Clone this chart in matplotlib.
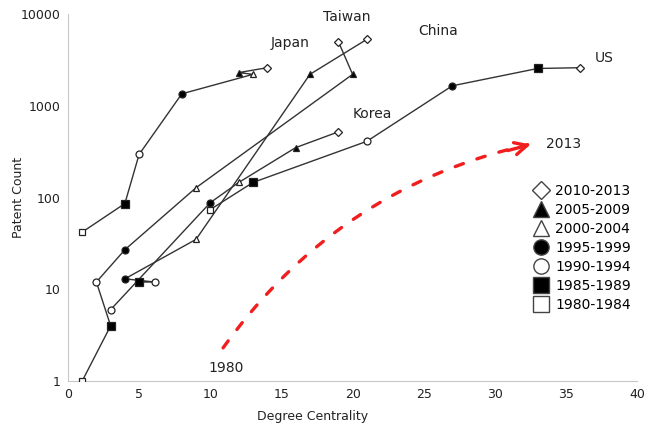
import matplotlib
matplotlib.use('Agg')
import matplotlib.pyplot as plt
from matplotlib.lines import Line2D

# periods and how each one is marked
periods = ['1980-1984', '1985-1989', '1990-1994', '1995-1999', '2000-2004', '2005-2009', '2010-2013']
period_marker = ['s', 's', 'o', 'o', '^', '^', 'D']
period_filled = [False, True, False, True, False, True, False]

# values: degree centrality, patent count, period index
japan_x = [1, 4, 5, 8, 13, 12, 14]
japan_y = [42, 86, 295, 1350, 2200, 2300, 2600]
japan_p = [0, 1, 2, 3, 4, 5, 6]

taiwan_x = [1, 3, 2, 4, 9, 20, 19]
taiwan_y = [1, 4, 12, 27, 128, 2200, 5000]
taiwan_p = [0, 1, 2, 3, 4, 5, 6]

china_x = [5, 6.1, 4, 9, 17, 21]
china_y = [12, 12, 13, 35, 2200, 5300]
china_p = [1, 2, 3, 4, 5, 6]

korea_x = [3, 10, 12, 16, 19]
korea_y = [6, 88, 146, 350, 520]
korea_p = [2, 3, 4, 5, 6]

us_x = [10, 13, 21, 27, 33, 36]
us_y = [74, 146, 410, 1650, 2550, 2600]
us_p = [0, 1, 2, 3, 1, 6]

countries = [('Japan', japan_x, japan_y, japan_p),
             ('Taiwan', taiwan_x, taiwan_y, taiwan_p),
             ('China', china_x, china_y, china_p),
             ('Korea', korea_x, korea_y, korea_p),
             ('US', us_x, us_y, us_p)]

# label positions (data coords)
label_pos = {'Taiwan': (19.6, 9300), 'Japan': (15.6, 4800), 'China': (26.0, 6500),
             'US': (37.7, 3300), 'Korea': (21.4, 820)}

fig = plt.figure(figsize=(6.47, 4.38), dpi=100)
ax = fig.add_axes([0.105, 0.130, 0.880, 0.838])

line_col = '#333333'
for name, xs, ys, ps in countries:
    ax.plot(xs, ys, color=line_col, lw=1.0, zorder=2)
    for x, y, p in zip(xs, ys, ps):
        m = period_marker[p]
        ms = 4.2 if m == 'D' else (5.5 if m == 's' and period_filled[p] else 5)
        ax.plot([x], [y], marker=m, ms=ms, mec='#222222', mew=0.9,
                mfc='black' if period_filled[p] else 'white', zorder=3, ls='none')
    lx, ly = label_pos[name]
    ax.text(lx, ly, name, fontsize=10, ha='center', va='center', color='#222222')

# red dashed arrow 1980 -> 2013 (dashed body, solid head)
red = '#f01e1e'
ax.annotate('', xy=(32.3, 377), xytext=(10.9, 2.3),
            arrowprops=dict(arrowstyle='-', color=red, lw=2.4, linestyle=(0, (2.6, 4.3)),
                            connectionstyle='arc3,rad=-0.19', shrinkA=0, shrinkB=0))
ax.annotate('', xy=(32.5, 379), xytext=(30.9, 325),
            arrowprops=dict(arrowstyle='->', color=red, lw=2.4, mutation_scale=22,
                            shrinkA=0, shrinkB=0))
ax.text(11.1, 1.38, '1980', fontsize=10, ha='center', va='center', color='#222222')
ax.text(34.8, 386, '2013', fontsize=10, ha='center', va='center', color='#222222')

ax.set_yscale('log')
ax.set_xlim(0, 40)
ax.set_ylim(1, 10000)
ax.set_xticks(range(0, 41, 5))
ax.set_yticks([1, 10, 100, 1000, 10000])
ax.set_yticklabels(['1', '10', '100', '1000', '10000'])
ax.minorticks_off()
ax.tick_params(length=0, labelsize=9, colors='#222222', pad=5)
for s in ['top', 'right']:
    ax.spines[s].set_visible(False)
for s in ['left', 'bottom']:
    ax.spines[s].set_color('#c8c8c8')
ax.set_xlabel('Degree Centrality', fontsize=9, color='#222222')
ax.set_ylabel('Patent Count', fontsize=9, color='#222222')
ax.xaxis.set_label_coords(0.43, -0.08)
ax.yaxis.set_label_coords(-0.076, 0.5)

handles = []
for i in reversed(range(len(periods))):
    m = period_marker[i]
    handles.append(Line2D([], [], ls='none', marker=m, ms=11 if m != 'D' else 9,
                          mfc='black' if period_filled[i] else 'white', mec='#444444', mew=1.0,
                          label=periods[i]))
fig.legend(handles=handles, loc='upper left', bbox_to_anchor=(0.815, 0.595), frameon=False,
           fontsize=10, handlelength=1.0, handletextpad=0.5, labelspacing=0.35, borderpad=0)

fig.savefig('out.png', dpi=100)
